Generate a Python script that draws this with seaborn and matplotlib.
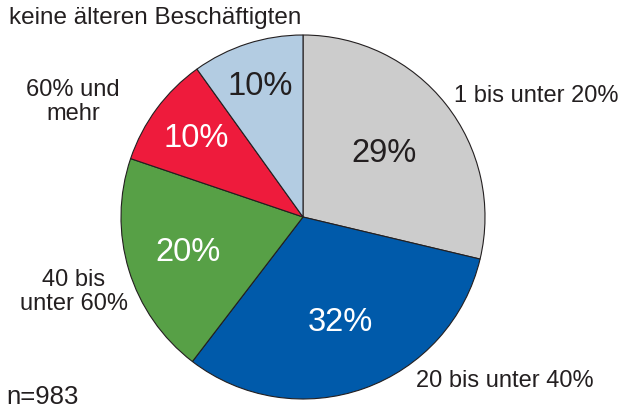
import matplotlib
matplotlib.use("Agg")
import matplotlib.pyplot as plt
import seaborn as sns
import numpy as np

sns.set_theme(style="white")
plt.rcParams['font.family'] = ['Liberation Sans', 'DejaVu Sans']

categories = ["1 bis unter 20%", "20 bis unter 40%", "40 bis\nunter 60%",
              "60% und\nmehr", "keine älteren Beschäftigten"]
values = [29, 32, 20, 10, 10]
pct_labels = ["29%", "32%", "20%", "10%", "10%"]
colors = ["#CCCCCC", "#005AAA", "#57A046", "#EE1B3C", "#B3CCE2"]
pct_colors = ["#231F20", "white", "white", "white", "#231F20"]
pct_radius = [0.57, 0.61, 0.66, 0.73, 0.76]

W, H = 622, 410
fig = plt.figure(figsize=(W / 100, H / 100), dpi=100)
cx, cy, r = 303, 218, 182
ax = fig.add_axes([(cx - r) / W, (H - cy - r) / H, 2 * r / W, 2 * r / H])

wedges, _ = ax.pie(values, colors=colors, startangle=90, counterclock=False,
                   radius=1.0,
                   wedgeprops=dict(edgecolor="#231F20", linewidth=0.8))
ax.set_xlim(-1, 1)
ax.set_ylim(-1, 1)
ax.set_aspect("equal")
ax.axis("off")

for w, lab, col, rr in zip(wedges, pct_labels, pct_colors, pct_radius):
    ang = np.deg2rad((w.theta1 + w.theta2) / 2)
    ax.text(rr * np.cos(ang), rr * np.sin(ang), lab, ha="center", va="center",
            fontsize=23.5, color=col)

# label centres in pixels
label_px = [(536, 96), (505, 381), (74, 292), (73, 102), (155, 18)]
label_fs = [17, 17, 17, 17, 17.5]
for cat, (px, py), fs in zip(categories, label_px, label_fs):
    ax.text((px - cx) / r, (cy - py) / r, cat, ha="center", va="center",
            fontsize=fs, color="#231F20", linespacing=1.1, clip_on=False)

fig.text(6 / W, 1 - 397 / H, "n=983", ha="left", va="center",
         fontsize=18.5, color="#231F20")

fig.savefig("out.png", dpi=100)
